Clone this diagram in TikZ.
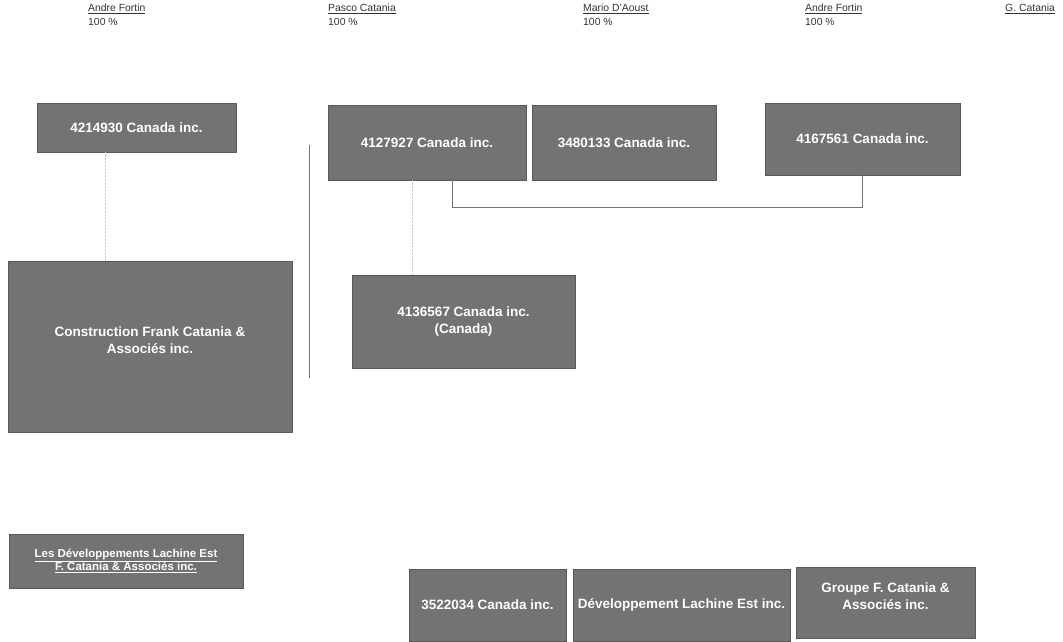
\documentclass[tikz,border=0pt]{standalone}
\usepackage{fontspec}
\setmainfont{Liberation Sans}
\usetikzlibrary{positioning}

\tikzset{
  cobox/.style={draw=black!65, fill=black!55, text=white, font=\bfseries\fontsize{13.5}{17}\selectfont, align=center, inner sep=2pt},
  owner/.style={anchor=north west, align=left, font=\fontsize{10.4}{14}\selectfont, text=black!80, inner sep=0pt},
  link/.style={draw=black!55, line width=0.8pt},
  faint/.style={draw=black!20, densely dotted}
}

\begin{document}
\begin{tikzpicture}[x=1pt, y=-1pt]
      \useasboundingbox (0,0) rectangle (1063,641);

      % Owners
      \node[owner] (own1) at (88,4)   {\underline{Andre Fortin}\\100 \%};
      \node[owner] (own2) at (328,4)  {\underline{Pasco Catania}\\100 \%};
      \node[owner] (own3) at (583,4)  {\underline{Mario D'Aoust}\\100 \%};
      \node[owner] (own4) at (805,4)  {\underline{Andre Fortin}\\100 \%};
      \node[owner] (own5) at (1005,4) {\underline{G. Catania}};

      % Holding companies
      \node[cobox, minimum width=199, minimum height=49] (hold1) at (136.5,127.5) {4214930 Canada inc.};
      \node[cobox, minimum width=198, minimum height=75] (hold2) at (427,142.5) {4127927 Canada inc.};
      \node[cobox, minimum width=184, minimum height=75] (hold3) at (624,142.5) {3480133 Canada inc.};
      \node[cobox, minimum width=195, minimum height=72] (hold4) at (862.5,139) {4167561 Canada inc.};

      % Operating companies
      \node[cobox, minimum width=284, minimum height=171] (cfc) at (150,346.5) {Construction Frank Catania \&\\Associés inc.\\[-4pt]};
      \node[cobox, minimum width=223, minimum height=93] (canada) at (463.5,321.5) {4136567 Canada inc.\\(Canada)};
      \node[cobox, minimum width=234, minimum height=54, font=\bfseries\fontsize{11.5}{13}\selectfont] (ldev) at (126,561)
        {\underline{Les Développements Lachine Est}\\\underline{F. Catania \& Associés inc.}};

      % Bottom row
      \node[cobox, minimum width=157, minimum height=72] (num) at (487.5,605) {3522034 Canada inc.};
      \node[cobox, minimum width=217, minimum height=72] (dle) at (681.5,605) {Développement Lachine Est inc.};
      \node[cobox, minimum width=179, minimum height=71] (gfc) at (885.5,602.5) {Groupe F. Catania \&\\Associés inc.\\[-4pt]};

      % Links
      \draw[link] ([xshift=25pt]hold2.south) -- ++(0,27) -| (hold4.south);
      \coordinate (vtop) at (309,145);
      \coordinate (vbot) at (309,378);
      \draw[link, line width=1pt] (vtop) -- (vbot);
      \draw[faint] (hold1.south -| 105,0) -- (cfc.north -| 105,0);
      \draw[faint] (hold2.south -| 412,0) -- (canada.north -| 412,0);
    \end{tikzpicture}
\end{document}
